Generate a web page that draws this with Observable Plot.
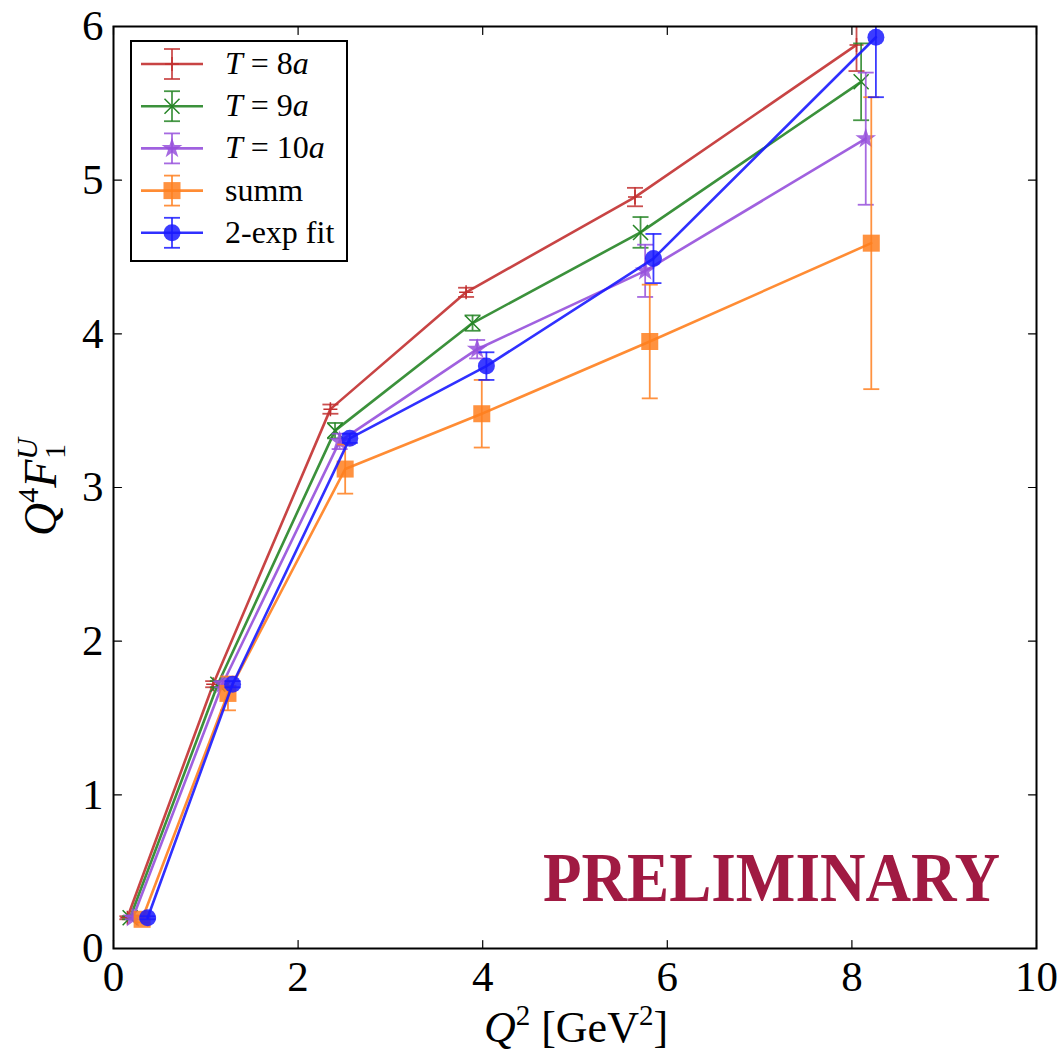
<!DOCTYPE html>
<html><head><meta charset="utf-8">
<script src="https://cdn.jsdelivr.net/npm/d3@7"></script>
<script src="https://cdn.jsdelivr.net/npm/@observablehq/plot@0.6"></script>
<style>body{margin:0;background:#fff;}</style>
</head><body><div id="chart"></div>
<script>
// ---- data ----
const seriesNames = ["T = 8a", "T = 9a", "T = 10a", "summ", "2-exp fit"];
const q2_T8  = [0.15, 1.08, 2.35, 3.82, 5.65, 8.05];
const f_T8   = [0.20, 1.72, 3.51, 4.27, 4.89, 5.88];
const err_T8 = [0.01, 0.02, 0.03, 0.03, 0.06, 0.17];
const q2_T9  = [0.18, 1.13, 2.40, 3.89, 5.71, 8.10];
const f_T9   = [0.20, 1.72, 3.37, 4.07, 4.66, 5.64];
const err_T9 = [0.01, 0.02, 0.05, 0.05, 0.10, 0.25];
const q2_T10  = [0.21, 1.18, 2.45, 3.94, 5.76, 8.15];
const f_T10   = [0.20, 1.72, 3.30, 3.90, 4.41, 5.27];
const err_T10 = [0.01, 0.02, 0.05, 0.06, 0.17, 0.43];
const q2_summ  = [0.31, 1.24, 2.51, 3.99, 5.81, 8.21];
const f_summ   = [0.19, 1.66, 3.12, 3.48, 3.95, 4.59];
const err_summ = [0.02, 0.11, 0.16, 0.22, 0.37, 0.95];
const q2_fit  = [0.37, 1.29, 2.56, 4.04, 5.85, 8.26];
const f_fit   = [0.20, 1.72, 3.32, 3.79, 4.49, 5.93];
const err_fit = [0.01, 0.02, 0.03, 0.09, 0.16, 0.39];
const xTicks = [0, 2, 4, 6, 8, 10];
const yTicks = [0, 1, 2, 3, 4, 5, 6];

// ---- styles ----
const colors = ["#c23030", "#268526", "#9650dc", "#ff7f1e", "#1a1aff"];
const serif = "Liberation Serif";

const seriesData = [
  [q2_T8, f_T8, err_T8],
  [q2_T9, f_T9, err_T9],
  [q2_T10, f_T10, err_T10],
  [q2_summ, f_summ, err_summ],
  [q2_fit, f_fit, err_fit]
];
const rows = [];
seriesData.forEach(([xs, ys, es], i) => {
  xs.forEach((x, j) => rows.push({series: seriesNames[i], x, y: ys[j], e: es[j]}));
});

const plusSym = {draw(c, s){const r=Math.sqrt(s/Math.PI); c.moveTo(-r,0); c.lineTo(r,0); c.moveTo(0,-r); c.lineTo(0,r);}};
const xSym = {draw(c, s){const r=Math.sqrt(s/Math.PI)*0.75; c.moveTo(-r,-r); c.lineTo(r,r); c.moveTo(-r,r); c.lineTo(r,-r);}};
const capSym = {draw(c, s){const r=Math.sqrt(s/Math.PI); c.moveTo(-r,0); c.lineTo(r,0);}};
const markers = [
  {symbol: plusSym, r: 7, filled: false},
  {symbol: xSym, r: 10, filled: false},
  {symbol: d3.symbolStar, r: 6.5, filled: true},
  {symbol: d3.symbolSquare, r: 9.6, filled: true},
  {symbol: d3.symbolCircle, r: 8.5, filled: true}
];
const tickShape = {draw(c, l){c.moveTo(0,0); c.lineTo(0,-l);}};

const marks = [];
seriesNames.forEach((name, i) => {
  const d = rows.filter(r => r.series === name);
  const col = colors[i];
  const m = markers[i];
  marks.push(Plot.line(d, {x: "x", y: "y", stroke: col, strokeWidth: 2.6, strokeOpacity: 0.9, clip: true}));
  marks.push(Plot.ruleX(d, {x: "x", y1: r => r.y - r.e, y2: r => r.y + r.e, stroke: col, strokeWidth: 1.8, strokeOpacity: 0.85, clip: true}));
  marks.push(Plot.dot(d, {x: "x", y: r => r.y - r.e, symbol: capSym, r: 8, stroke: col, strokeWidth: 1.8, strokeOpacity: 0.85, clip: true}));
  marks.push(Plot.dot(d, {x: "x", y: r => r.y + r.e, symbol: capSym, r: 8, stroke: col, strokeWidth: 1.8, strokeOpacity: 0.85, clip: true}));
  if (m.filled) {
    marks.push(Plot.dot(d, {x: "x", y: "y", symbol: m.symbol, r: m.r, fill: col, fillOpacity: 0.85, stroke: "none"}));
  } else {
    marks.push(Plot.dot(d, {x: "x", y: "y", symbol: m.symbol, r: m.r, stroke: col, strokeWidth: 1.5, fill: "none"}));
  }
});

const chart = Plot.plot({
  width: 1063,
  height: 1054,
  marginLeft: 113,
  marginRight: 27,
  marginTop: 26,
  marginBottom: 106,
  style: {fontFamily: serif, fontSize: "42px", background: "white", color: "black"},
  x: {domain: [0, 10]},
  y: {domain: [0, 6]},
  marks: [
    ...marks,
    Plot.axisX({ticks: xTicks, tickSize: 0, tickPadding: 12, label: null, tickFormat: d => d, fontSize: 43, fontFamily: serif}),
    Plot.axisY({ticks: yTicks, tickSize: 0, tickPadding: 10, label: null, tickFormat: d => d, fontSize: 43, fontFamily: serif}),
    Plot.vectorX(xTicks, {x: d => d, frameAnchor: "bottom", length: 8, anchor: "start", rotate: 0, shape: tickShape, stroke: "black", strokeWidth: 1.2}),
    Plot.vectorX(xTicks, {x: d => d, frameAnchor: "top", length: 8, anchor: "start", rotate: 180, shape: tickShape, stroke: "black", strokeWidth: 1.2}),
    Plot.vectorY(yTicks, {y: d => d, frameAnchor: "left", length: 8, anchor: "start", rotate: 90, shape: tickShape, stroke: "black", strokeWidth: 1.2}),
    Plot.vectorY(yTicks, {y: d => d, frameAnchor: "right", length: 8, anchor: "start", rotate: -90, shape: tickShape, stroke: "black", strokeWidth: 1.2}),
    Plot.frame({stroke: "black", strokeWidth: 2})
  ]
});
document.getElementById("chart").appendChild(chart);

const svg = d3.select(chart);

// PRELIMINARY watermark
svg.append("text")
  .attr("x", 543).attr("y", 901).attr("text-anchor", "start")
  .attr("font-family", serif).attr("font-weight", "bold").attr("font-size", 70)
  .attr("fill", "#a01a42")
  .attr("textLength", 457).attr("lengthAdjust", "spacingAndGlyphs")
  .text("PRELIMINARY");

// x label
const xl = svg.append("text").attr("x", 576).attr("y", 1042).attr("text-anchor", "middle")
  .attr("font-family", serif).attr("font-size", 44).attr("fill", "black");
xl.append("tspan").attr("font-style", "italic").text("Q");
xl.append("tspan").attr("font-size", 29).attr("dy", -17).text("2");
xl.append("tspan").attr("dy", 17).text(" [GeV");
xl.append("tspan").attr("font-size", 29).attr("dy", -17).text("2");
xl.append("tspan").attr("dy", 17).text("]");

// y label
const yl = svg.append("text").attr("transform", "translate(56,487) rotate(-90)").attr("text-anchor", "middle")
  .attr("font-family", serif).attr("font-size", 46).attr("fill", "black");
yl.append("tspan").attr("font-style", "italic").text("Q");
yl.append("tspan").attr("font-size", 30).attr("dy", -18).text("4");
yl.append("tspan").attr("font-style", "italic").attr("dy", 18).text("F");
yl.append("tspan").attr("font-style", "italic").attr("font-size", 30).attr("dy", -19).text("U");
yl.append("tspan").attr("font-size", 30).attr("dx", -21).attr("dy", 28).text("1");

// legend
const lg = svg.append("g").attr("text-anchor", "start");
lg.append("rect").attr("x", 131).attr("y", 41).attr("width", 216).attr("height", 220)
  .attr("fill", "white").attr("stroke", "black").attr("stroke-width", 2);
const labelParts = [
  [["T", true, 0], ["=", false, 8], ["8", false, 8], ["a", true, 0]],
  [["T", true, 0], ["=", false, 8], ["9", false, 8], ["a", true, 0]],
  [["T", true, 0], ["=", false, 8], ["10", false, 8], ["a", true, 0]],
  [["summ", false, 0]],
  [["2-exp fit", false, 0]]
];
seriesNames.forEach((name, i) => {
  const cy = 64 + i * 42.2, cx = 172, col = colors[i], m = markers[i];
  lg.append("line").attr("x1", 141).attr("x2", 203).attr("y1", cy).attr("y2", cy)
    .attr("stroke", col).attr("stroke-width", 2.6).attr("stroke-opacity", 0.9);
  lg.append("line").attr("x1", cx).attr("x2", cx).attr("y1", cy - 15).attr("y2", cy + 15)
    .attr("stroke", col).attr("stroke-width", 1.8).attr("stroke-opacity", 0.85);
  [-15, 15].forEach(o => lg.append("line").attr("x1", cx - 8).attr("x2", cx + 8).attr("y1", cy + o).attr("y2", cy + o)
    .attr("stroke", col).attr("stroke-width", 1.8).attr("stroke-opacity", 0.85));
  const p = d3.symbol().type(m.symbol).size(Math.PI * m.r * m.r)();
  const path = lg.append("path").attr("d", p).attr("transform", `translate(${cx},${cy})`);
  if (m.filled) path.attr("fill", col).attr("fill-opacity", 0.85);
  else path.attr("fill", "none").attr("stroke", col).attr("stroke-width", 1.5);
  const t = lg.append("text").attr("x", 225).attr("y", cy + 10).attr("text-anchor", "start")
    .attr("font-family", serif).attr("font-size", 32).attr("fill", "black");
  labelParts[i].forEach(([s, it, dx]) => {
    const ts = t.append("tspan").text(s);
    if (dx) ts.attr("dx", dx);
    if (it) ts.attr("font-style", "italic");
  });
});
</script>
</body></html>
